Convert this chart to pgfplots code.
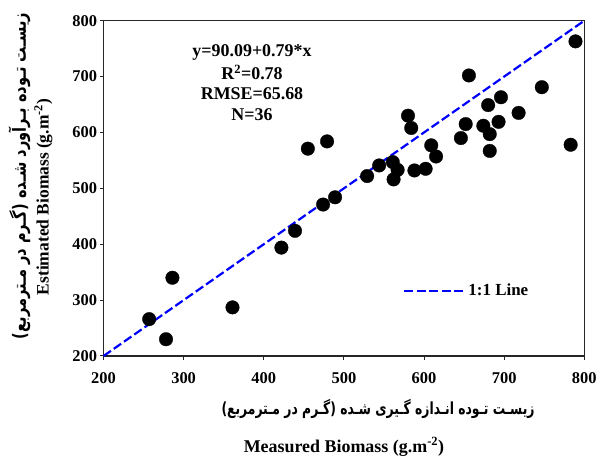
\documentclass[border=0pt]{standalone}
\usepackage{fontspec}
\setmainfont{Liberation Serif}
\newfontfamily\arabicfont[Script=Arabic]{DejaVu Sans}
\TeXXeTstate=1
\usepackage{graphicx}
\usepackage{pgfplots}
\pgfplotsset{compat=1.18}

\begin{document}
\begin{tikzpicture}
\path[use as bounding box] (0,0) rectangle (597bp,459bp);
\begin{axis}[
  at={(103.5bp,103bp)}, anchor=south west,
  scale only axis, width=480.8bp, height=335.3bp,
  xmin=200, xmax=800, ymin=200, ymax=800,
  xtick={200,300,...,800}, ytick={200,300,...,800},
  xtick pos=bottom, ytick pos=left,
  tick align=outside, major tick length=4bp,
  axis line style={line width=1.2bp, black!85},
  every tick/.style={line width=1bp, black!85},
  ticklabel style={font=\fontsize{16.5}{18}\selectfont\bfseries},
  /pgf/number format/assume math mode=true,
  /pgf/number format/1000 sep={},
  xticklabel style={yshift=-9bp},
  yticklabel style={xshift=1bp},
  legend style={at={(0.623,0.1948)}, anchor=west, draw=none, fill=none,
    inner sep=0pt, font=\fontsize{17}{18}\selectfont\bfseries,
    nodes={inner sep=1bp}, /tikz/every even column/.style={column sep=10bp}},
  legend image code/.code={\draw[#1] (0bp,0bp) -- (62bp,0bp);},
  clip=false,
]
\addplot[only marks, mark=*, mark size=6.8bp, mark options={fill=black, draw=black, line width=0.3bp}, forget plot] coordinates {
(257,266) (278,230) (286,340) (361,287) (422,394) (439,424) (474,471) (489,484)
(455,571) (479,584) (529,522) (544,541) (561,547) (567,533) (562,516) (588,532)
(602,535) (615,557) (609,577) (580,630) (584,608) (656,702) (646,590) (652,615)
(674,612) (682,597) (682,567) (680,649) (696,663) (693,619) (718,635) (747,681)
(783,578) (789,763)
};
\addplot[blue, line width=2.2bp, dash pattern=on 9bp off 3.5bp] coordinates {(200,200) (800,800)};
\addlegendentry{1:1 Line}
\end{axis}
% regression text
\begin{scope}[every node/.style={font=\fontsize{18}{18}\selectfont\bfseries, anchor=base, inner sep=0pt}]
\node at (252bp,402.3bp) {y=90.09+0.79*x};
\node at (252bp,379.7bp) {R\textsuperscript{2}=0.78};
\node at (252bp,359bp) {RMSE=65.68};
\node at (252bp,338.3bp) {N=36};
\end{scope}
% x labels
\node[anchor=base, inner sep=0pt] at (378bp,44bp) {\resizebox{313bp}{!}{\scalebox{1}[1.35]{\arabicfont\bfseries\fontsize{15}{16}\selectfont\beginR زیسـت تـوده انـدازه گـیری شـده (گـرم در مـترمربع)\endR}}};
\node[anchor=base, inner sep=0pt, font=\fontsize{18}{18}\selectfont\bfseries] at (344bp,7bp) {Measured Biomass (g.m\textsuperscript{-2})};
% y labels
\node[rotate=90, inner sep=0pt] at (19.5bp,283bp) {\resizebox{326bp}{!}{\scalebox{1}[1.25]{\arabicfont\bfseries\fontsize{15}{16}\selectfont\beginR زیسـت تـوده بـرآورد شـده (گـرم در مـترمربع)\endR}}};
\node[rotate=90, inner sep=0pt, font=\fontsize{17.5}{18}\selectfont\bfseries] at (43.5bp,262bp) {Estimated Biomass (g.m\textsuperscript{-2})};
\end{tikzpicture}
\end{document}
